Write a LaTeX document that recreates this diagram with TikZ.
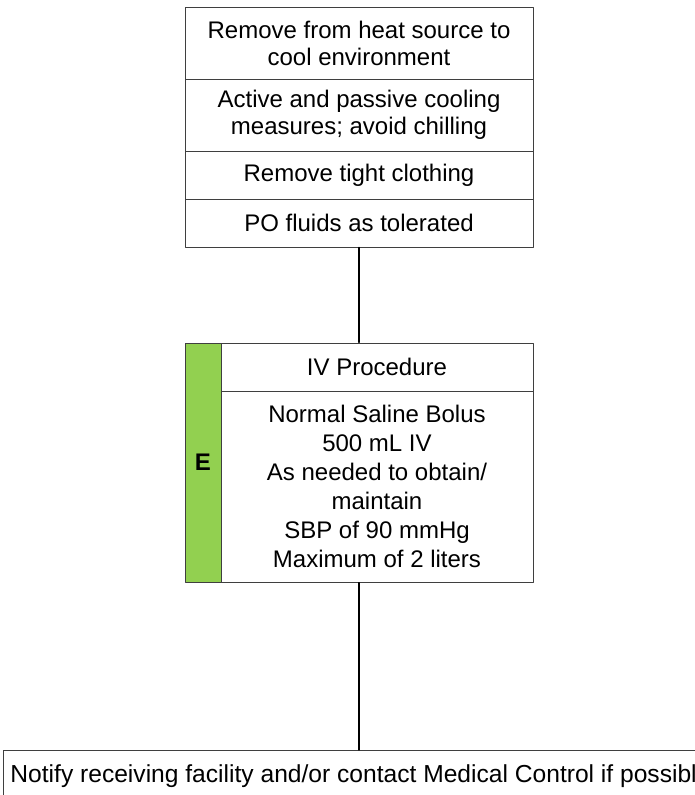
\documentclass[tikz,border=0pt]{standalone}
\usepackage{fontspec}
\setmainfont{Liberation Sans}
\usetikzlibrary{fit}
\definecolor{egreen}{HTML}{92D050}
\definecolor{edge}{HTML}{3F3F3F}
\tikzset{
  cell/.style={draw=edge,line width=0.9pt,inner sep=0pt,align=center,
    font=\fontsize{24}{27}\selectfont},
  link/.style={line width=1.3pt,black}
}
\begin{document}
\begin{tikzpicture}[x=1pt,y=-1pt,line cap=round,line join=round]
  \useasboundingbox (0,0) rectangle (695,795);
  \clip (0,0) rectangle (695,795);
  % cooling measures
  \node[cell,minimum width=348,minimum height=72] (heat) at (359,43) {Remove from heat source to\\cool environment};
  \node[cell,minimum width=348,minimum height=72] (cool) at (359,115) {Active and passive cooling\\measures; avoid chilling};
  \node[cell,minimum width=348,minimum height=48] (cloth) at (359,175) {Remove tight clothing};
  \node[cell,minimum width=348,minimum height=48] (fluids) at (359,223) {PO fluids as tolerated};
  % IV procedure
  \node[cell,fill=egreen,minimum width=36,minimum height=239,font=\fontsize{24}{27}\selectfont\bfseries] (level) at (203,462.5) {E};
  \node[cell,minimum width=312,minimum height=48] (iv) at (377,367) {IV Procedure};
  \node[cell,minimum width=312,minimum height=191,font=\fontsize{24}{29}\selectfont] (bolus) at (377,486.5) {Normal Saline Bolus\\500 mL IV\\As needed to obtain/\\maintain\\SBP of 90 mmHg\\Maximum of 2 liters};
  \node[fit=(level)(iv)(bolus),inner sep=0pt] (ivbox) {};
  % notify
  \node[cell,anchor=north west,align=left,minimum height=52,inner xsep=7pt,font=\fontsize{24.6}{28}\selectfont] (notify) at (3,750) {Notify receiving facility and/or contact Medical Control if possible};
  \draw[link] (fluids.south) -- (ivbox.north);
  \draw[link] (ivbox.south) -- (ivbox.south |- notify.north);
\end{tikzpicture}
\end{document}
